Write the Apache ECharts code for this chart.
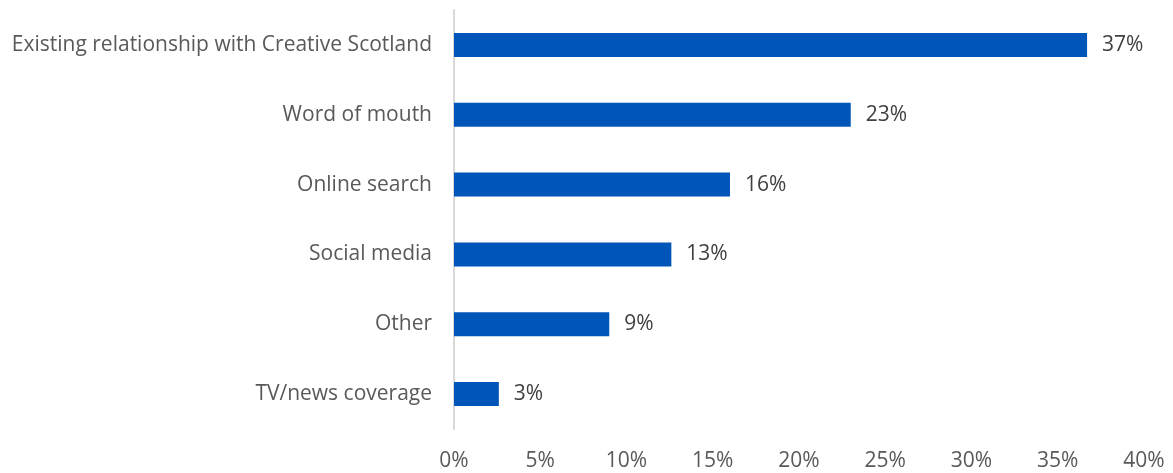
<!DOCTYPE html>
<html>
<head>
<meta charset="utf-8">
<script src="https://cdn.jsdelivr.net/npm/echarts@6/dist/echarts.min.js"></script>
<style>
  html, body { margin: 0; padding: 0; background: #fff; }
  #chart { width: 1173px; height: 473px; }
</style>
</head>
<body>
<div id="chart"></div>
<script>
// How respondents heard about the fund (share of respondents, %)
const categories = [
  'Existing relationship with Creative Scotland',
  'Word of mouth',
  'Online search',
  'Social media',
  'Other',
  'TV/news coverage'
];
const shares = [36.7, 23.0, 16.0, 12.6, 9.0, 2.6];
const tickStep = 5;
const axisMax = 40;

const font = '"Open Sans", "DejaVu Sans", sans-serif';
const chart = echarts.init(document.getElementById('chart'), null, { renderer: 'canvas' });

chart.setOption({
  animation: false,
  grid: { left: 454, right: 29, top: 10, bottom: 44, containLabel: false },
  xAxis: {
    type: 'value',
    min: 0,
    max: axisMax,
    interval: tickStep,
    axisLine: { show: false },
    axisTick: { show: false },
    splitLine: { show: false },
    axisLabel: {
      formatter: v => v + '%',
      color: '#595959',
      fontFamily: font,
      fontSize: 21,
      margin: 22
    }
  },
  yAxis: {
    type: 'category',
    data: categories.slice().reverse(),
    axisLine: { show: true, lineStyle: { color: '#d9d9d9', width: 2 } },
    axisTick: { show: false },
    axisLabel: {
      color: '#595959',
      fontFamily: font,
      fontSize: 21,
      margin: 22
    }
  },
  series: [{
    type: 'bar',
    data: shares.slice().reverse(),
    barWidth: 24,
    itemStyle: { color: '#0055b8' },
    label: {
      show: true,
      position: 'right',
      distance: 15,
      formatter: p => Math.round(p.value) + '%',
      color: '#404040',
      fontFamily: font,
      fontSize: 21
    }
  }]
});
</script>
</body>
</html>
